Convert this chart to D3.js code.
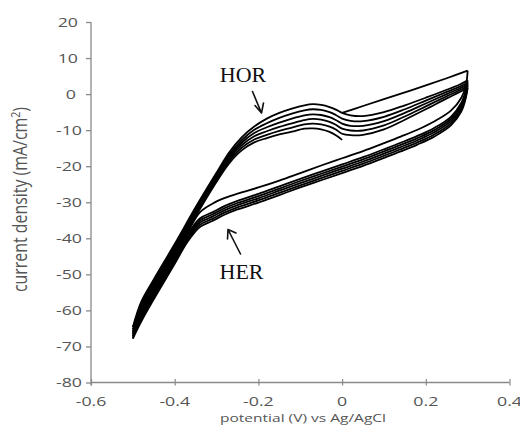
<!DOCTYPE html>
<html>
<head>
<meta charset="utf-8">
<script src="https://cdn.jsdelivr.net/npm/d3@7"></script>
<style>
  html, body { margin: 0; padding: 0; background: #fff; }
  svg { display: block; }
</style>
</head>
<body>
<svg id="chart" width="520" height="428"></svg>
<script>
// Cyclic voltammogram: six cycles between -0.5 V and 0.3 V (vs Ag/AgCl)

const xTicks = [-0.6, -0.4, -0.2, 0, 0.2, 0.4];
const xTickLabels = ["-0.6", "-0.4", "-0.2", "0", "0.2", "0.4"];
const yTicks = [20, 10, 0, -10, -20, -30, -40, -50, -60, -70, -80];
const yTickLabels = ["20", "10", "0", "-10", "-20", "-30", "-40", "-50", "-60", "-70", "-80"];

// initial anodic step from the rest potential up to the upper vertex
const startV = [0, 0.05, 0.1, 0.15, 0.2, 0.25, 0.3];
const startI = [-5.2, -3.3, -1.4, 0.5, 2.4, 4.4, 6.5];

// cathodic sweeps (0.3 V -> -0.5 V), hydrogen evolution at the negative end
const cathV = [0.3, 0.296, 0.285, 0.26, 0.22, 0.18, 0.14, 0.1, 0.05, 0, -0.05, -0.1, -0.15, -0.2, -0.25, -0.28, -0.31, -0.34, -0.37, -0.4, -0.45, -0.48, -0.5];
const cath1 = [6.5, 2.5, -1.0, -4.6, -7.6, -9.9, -11.8, -13.6, -15.8, -17.8, -19.8, -21.9, -24.0, -25.9, -27.6, -28.8, -30.4, -32.8, -38.6, -44.6, -54.4, -60.6, -64.6];
const cath2 = [3.8, 1.2, -2.4, -6.3, -9.4, -11.6, -13.5, -15.3, -17.5, -19.5, -21.5, -23.5, -25.6, -27.7, -29.6, -31.0, -32.8, -34.5, -39.1, -45.1, -54.9, -61.1, -65.3];
const cath3 = [3.2, 0.6, -3.0, -6.9, -10.0, -12.2, -14.1, -15.9, -18.1, -20.1, -22.1, -24.1, -26.2, -28.3, -30.2, -31.6, -33.4, -35.1, -39.6, -45.6, -55.4, -61.6, -66.0];
const cath4 = [2.7, 0.1, -3.6, -7.5, -10.6, -12.8, -14.7, -16.5, -18.7, -20.7, -22.7, -24.7, -26.8, -28.9, -30.8, -32.2, -34.0, -35.7, -40.1, -46.1, -55.9, -62.1, -66.6];
const cath5 = [2.2, -0.4, -4.2, -8.1, -11.2, -13.4, -15.3, -17.1, -19.3, -21.3, -23.3, -25.3, -27.4, -29.5, -31.4, -32.8, -34.6, -36.3, -40.6, -46.6, -56.4, -62.6, -67.2];
const cath6 = [1.7, -0.9, -4.8, -8.7, -11.8, -14.0, -15.9, -17.7, -19.9, -21.9, -23.9, -25.9, -28.0, -30.1, -32.0, -33.4, -35.2, -36.9, -41.1, -47.1, -56.9, -63.1, -67.8];

// anodic sweeps (-0.5 V -> 0.3 V), hydrogen oxidation wave near -0.07 V
const anodV = [-0.5, -0.48, -0.45, -0.4, -0.35, -0.3, -0.27, -0.24, -0.21, -0.18, -0.15, -0.12, -0.09, -0.07, -0.05, -0.03, -0.015, 0, 0.02, 0.05, 0.1, 0.15, 0.2, 0.25, 0.28, 0.3];
const anod1 = [-64.6, -57.6, -51.4, -41.6, -31.4, -21.8, -16.2, -12.0, -9.0, -6.8, -5.2, -4.0, -3.1, -2.8, -3.0, -3.6, -4.3, -5.2, -5.9, -6.1, -5.0, -3.1, -1.0, 1.2, 2.6, 3.8];
const anod2 = [-65.3, -58.1, -51.9, -42.1, -31.9, -22.3, -16.8, -12.8, -9.9, -8.1, -6.6, -5.4, -4.5, -4.2, -4.4, -5.0, -5.8, -6.8, -7.4, -7.5, -6.3, -4.2, -1.8, 0.6, 2.0, 3.2];
const anod3 = [-66.0, -58.6, -52.4, -42.6, -32.4, -22.8, -17.4, -13.5, -10.8, -9.2, -7.9, -6.8, -5.9, -5.6, -5.8, -6.4, -7.2, -8.2, -8.8, -8.8, -7.5, -5.2, -2.6, 0.0, 1.5, 2.7];
const anod4 = [-66.6, -59.1, -52.9, -43.1, -32.9, -23.3, -18.0, -14.2, -11.7, -10.3, -9.1, -8.1, -7.2, -6.9, -7.1, -7.7, -8.5, -9.6, -10.1, -10.1, -8.7, -6.2, -3.4, -0.6, 1.0, 2.2];
const anod5 = [-67.2, -59.6, -53.4, -43.6, -33.4, -23.8, -18.6, -14.9, -12.6, -11.3, -10.2, -9.3, -8.4, -8.2, -8.4, -9.0, -9.8, -11.0, -11.4, -11.3, -9.8, -7.1, -4.2, -1.2, 0.5, 1.7];
// last sweep stops at 0 V
const anod6 = [-67.8, -60.1, -53.9, -44.1, -33.9, -24.3, -19.2, -15.6, -13.4, -12.2, -11.2, -10.4, -9.6, -9.5, -9.8, -10.5, -11.4, -12.7];

const sweeps = [
  [startV, startI],
  [cathV, cath1], [anodV, anod1],
  [cathV, cath2], [anodV, anod2],
  [cathV, cath3], [anodV, anod3],
  [cathV, cath4], [anodV, anod4],
  [cathV, cath5], [anodV, anod5],
  [cathV, cath6], [anodV, anod6]
];

const svg = d3.select("#chart");

const x = d3.scaleLinear().domain([-0.6, 0.4]).range([91, 509.5]);
const y = d3.scaleLinear().domain([-80, 20]).range([382.5, 22]);

const axisColor = "#8a8a8a";
const labelColor = "#555";
const sx = 1.42; // horizontal stretch of the axis lettering
const sans = "'Open Sans', sans-serif";

// y axis: line and outward ticks
const gy = svg.append("g").attr("transform", `translate(${x(-0.6)},0)`)
  .call(d3.axisLeft(y).tickValues(yTicks).tickSize(5).tickFormat(""));
gy.select(".domain").attr("stroke", axisColor).attr("stroke-width", 1.3)
  .attr("d", `M0,${y(20)}V${y(-80) + 3}`);
gy.selectAll(".tick line").attr("stroke", axisColor).attr("stroke-width", 1.3);

// x axis: line and ticks crossing it
const gx = svg.append("g").attr("transform", `translate(0,${y(-80)})`)
  .call(d3.axisBottom(x).tickValues(xTicks).tickSize(3).tickFormat(""));
gx.select(".domain").attr("stroke", axisColor).attr("stroke-width", 1.3)
  .attr("d", `M${x(-0.6)},0H${x(0.4)}`);
gx.selectAll(".tick line").attr("stroke", axisColor).attr("stroke-width", 1.2).attr("y1", -3.5);

// tick labels
const labelRight = v => (v < 0 ? 82 : v === 0 ? 76 : 78);
svg.append("g").selectAll("text")
  .data(yTicks)
  .join("text")
  .attr("transform", d => `translate(${labelRight(d)},${y(d) + 4.5}) scale(${sx},1)`)
  .attr("text-anchor", "end")
  .attr("fill", labelColor)
  .style("font-family", sans)
  .style("font-size", "12.5px")
  .text((d, i) => yTickLabels[i]);

svg.append("g").selectAll("text")
  .data(xTicks)
  .join("text")
  .attr("transform", d => `translate(${x(d)},406) scale(${sx},1)`)
  .attr("text-anchor", "middle")
  .attr("fill", labelColor)
  .style("font-family", sans)
  .style("font-size", "12.5px")
  .text((d, i) => xTickLabels[i]);

// axis titles
svg.append("text")
  .attr("transform", `translate(303,422) scale(${sx},1)`)
  .attr("text-anchor", "middle")
  .attr("fill", labelColor)
  .style("font-family", sans)
  .style("font-size", "11.5px")
  .attr("textLength", 166 / sx)
  .attr("lengthAdjust", "spacingAndGlyphs")
  .text("potential (V)  vs Ag/AgCl");

const yTitle = svg.append("text")
  .attr("transform", `translate(27,199.5) scale(${sx},1) rotate(-90)`)
  .attr("text-anchor", "middle")
  .attr("fill", labelColor)
  .style("font-family", sans)
  .style("font-size", "13.5px")
  .attr("textLength", 185)
  .attr("lengthAdjust", "spacingAndGlyphs");
yTitle.append("tspan").text("current  density  (mA/cm");
yTitle.append("tspan").attr("dy", -5).style("font-size", "9px").text("2");
yTitle.append("tspan").attr("dy", 5).text(")");

// curves
const line = d3.line()
  .x(d => x(d[0]))
  .y(d => y(d[1]))
  .curve(d3.curveCatmullRom.alpha(0.5));

svg.append("g").selectAll("path")
  .data(sweeps)
  .join("path")
  .attr("d", ([vs, is]) => line(is.map((v, i) => [vs[i], v])))
  .attr("fill", "none")
  .attr("stroke", "#000")
  .attr("stroke-width", 1.8)
  .attr("stroke-linejoin", "round");

// annotations
const ann = svg.append("g").style("font-family", "'Liberation Serif', 'Times New Roman', serif")
  .style("font-size", "22px").attr("fill", "#111");
ann.append("text").attr("x", 243).attr("y", 82).attr("text-anchor", "middle").text("HOR");
ann.append("text").attr("x", 241.5).attr("y", 278.5).attr("text-anchor", "middle").text("HER");

const arrows = svg.append("g").attr("stroke", "#111").attr("stroke-width", 1.6)
  .attr("fill", "none").attr("stroke-linecap", "round").attr("stroke-linejoin", "round");
arrows.append("path").attr("d", "M252.5,91.5L261.5,113 M255,105.5L261.5,113L263.5,103");
arrows.append("path").attr("d", "M240.5,254L228,229.5 M228,229.5L227.5,239 M228,229.5L236,233");
</script>
</body>
</html>
